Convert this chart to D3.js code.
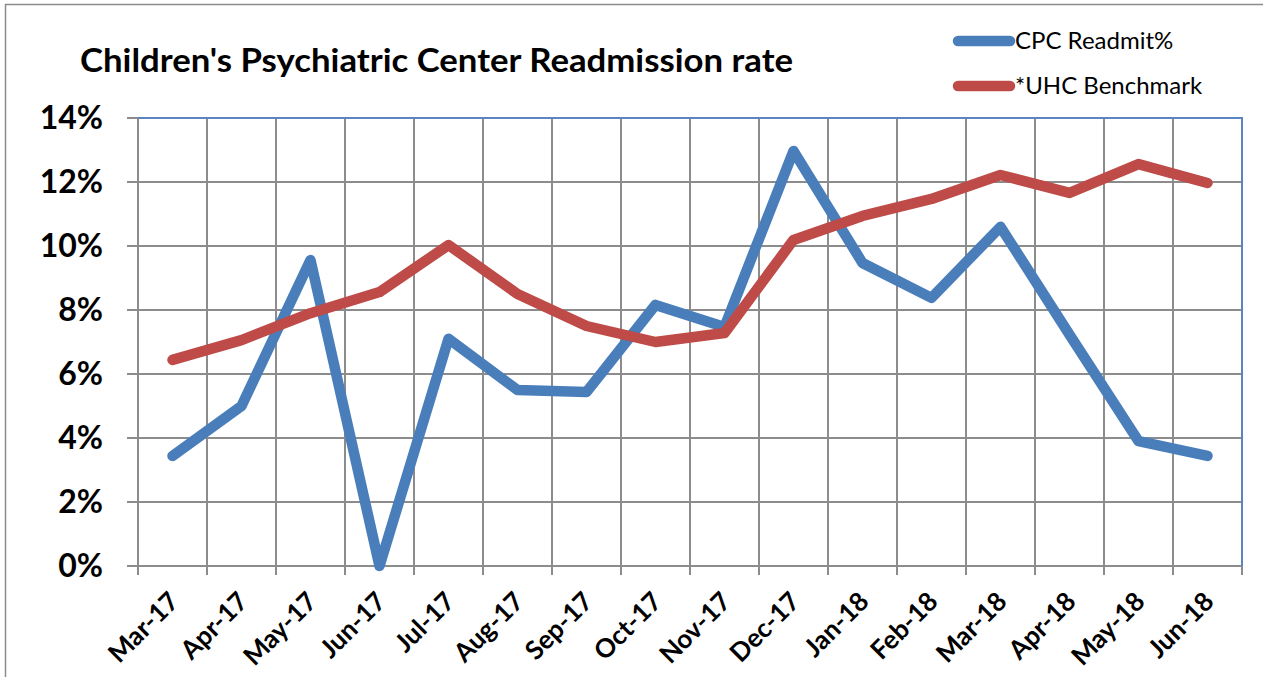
<!DOCTYPE html>
<html>
<head>
<meta charset="utf-8">
<script src="https://cdn.jsdelivr.net/npm/d3@7"></script>
<style>
  body { margin: 0; background: #fff; overflow: hidden; }
  text { font-family: Lato, "Open Sans", sans-serif; fill: #000; }
</style>
</head>
<body>
<div id="chart"></div>
<script>
var months = ["Mar-17", "Apr-17", "May-17", "Jun-17", "Jul-17", "Aug-17", "Sep-17", "Oct-17",
    "Nov-17", "Dec-17", "Jan-18", "Feb-18", "Mar-18", "Apr-18", "May-18", "Jun-18"];
var cpcReadmit = [0.0344, 0.050, 0.0956, 0.000, 0.0710, 0.0550, 0.0544, 0.0816,
    0.0747, 0.1297, 0.0947, 0.0838, 0.1060, 0.0723, 0.0390, 0.0344];
var uhcBenchmark = [0.0644, 0.0706, 0.0790, 0.0856, 0.1003, 0.0850, 0.0750, 0.0700,
    0.0728, 0.1019, 0.1094, 0.1147, 0.1222, 0.1166, 0.1256, 0.1197];
var yTicks = [0, 0.02, 0.04, 0.06, 0.08, 0.10, 0.12, 0.14];
var seriesNames = ["CPC Readmit%", "*UHC Benchmark"];
var seriesColors = ["#4a7ebb", "#be4b48"];

var width = 1263, height = 677;
var margin = {left: 138, right: 21, top: 118, bottom: 111};

var svg = d3.select("#chart").append("svg")
    .attr("width", width)
    .attr("height", height);

// outer chart border
svg.append("rect")
    .attr("x", 5.5).attr("y", 4.5)
    .attr("width", 1270).attr("height", 700)
    .attr("fill", "none")
    .attr("stroke", "#8c8c8c")
    .attr("stroke-width", 1.5);

var x = d3.scaleBand()
    .domain(months)
    .range([margin.left, width - margin.right])
    .padding(0);

var y = d3.scaleLinear()
    .domain([0, 0.14])
    .range([height - margin.bottom, margin.top]);

var grid = svg.append("g").attr("class", "grid");

// vertical gridlines at category edges, with small ticks below the axis
var edges = months.map(function(m) { return x(m); }).concat([x.range()[1]]);
grid.selectAll("line.v")
    .data(edges)
    .enter().append("line")
    .attr("class", "v")
    .attr("x1", function(d) { return d; })
    .attr("x2", function(d) { return d; })
    .attr("y1", y(0.14))
    .attr("y2", y(0) + 9)
    .attr("stroke", "#8c8c8c")
    .attr("stroke-width", 2);

// horizontal gridlines
grid.selectAll("line.h")
    .data(yTicks)
    .enter().append("line")
    .attr("class", "h")
    .attr("x1", margin.left - 11)
    .attr("x2", width - margin.right)
    .attr("y1", function(d) { return y(d); })
    .attr("y2", function(d) { return y(d); })
    .attr("stroke", "#8c8c8c")
    .attr("stroke-width", 2);

// top and right plot border (blue)
svg.append("path")
    .attr("d", "M" + margin.left + "," + y(0.14) + "H" + (width - margin.right) + "V" + y(0))
    .attr("fill", "none")
    .attr("stroke", "#5b85c0")
    .attr("stroke-width", 2);

// y axis labels
var yAxis = d3.axisLeft(y)
    .tickValues(yTicks)
    .tickSize(0)
    .tickPadding(35)
    .tickFormat(d3.format(".0%"));

svg.append("g")
    .attr("class", "y-axis")
    .attr("transform", "translate(" + margin.left + ",0)")
    .call(yAxis)
    .call(function(g) { g.select(".domain").remove(); })
    .selectAll("text")
    .attr("font-family", "Lato, sans-serif")
    .attr("font-size", 32)
    .attr("font-weight", "bold")
    .attr("fill", "#000");

// x axis labels, rotated
var xAxis = d3.axisBottom(x).tickSize(0).tickPadding(0);
svg.append("g")
    .attr("class", "x-axis")
    .attr("transform", "translate(0," + y(0) + ")")
    .call(xAxis)
    .call(function(g) { g.select(".domain").remove(); })
    .selectAll("text")
    .attr("font-family", "Lato, sans-serif")
    .attr("font-size", 26)
    .attr("font-weight", "bold")
    .attr("fill", "#000")
    .attr("text-anchor", "end")
    .attr("dy", null)
    .attr("y", 0)
    .attr("transform", "translate(8,37) rotate(-45)");

// lines
var line = d3.line()
    .x(function(d, i) { return x(months[i]) + x.bandwidth() / 2; })
    .y(function(d) { return y(d); });

[cpcReadmit, uhcBenchmark].forEach(function(s, i) {
    svg.append("path")
        .datum(s)
        .attr("d", line)
        .attr("fill", "none")
        .attr("stroke", seriesColors[i])
        .attr("stroke-width", 10.5)
        .attr("stroke-linejoin", "round")
        .attr("stroke-linecap", "round");
});

// title
svg.append("text")
    .attr("x", 80)
    .attr("y", 72)
    .attr("font-size", 33)
    .attr("font-weight", "bold")
    .attr("textLength", 713)
    .attr("lengthAdjust", "spacingAndGlyphs")
    .text("Children's Psychiatric Center Readmission rate");

// legend
var legend = svg.append("g").attr("class", "legend");
seriesNames.forEach(function(name, i) {
    var ly = 41 + i * 45;
    legend.append("line")
        .attr("x1", 958).attr("x2", 1010)
        .attr("y1", ly).attr("y2", ly)
        .attr("stroke", seriesColors[i])
        .attr("stroke-width", 10.5)
        .attr("stroke-linecap", "round");
    legend.append("text")
        .attr("x", 1015)
        .attr("y", ly + 8)
        .attr("font-size", 24)
        .text(name);
});
</script>
</body>
</html>
